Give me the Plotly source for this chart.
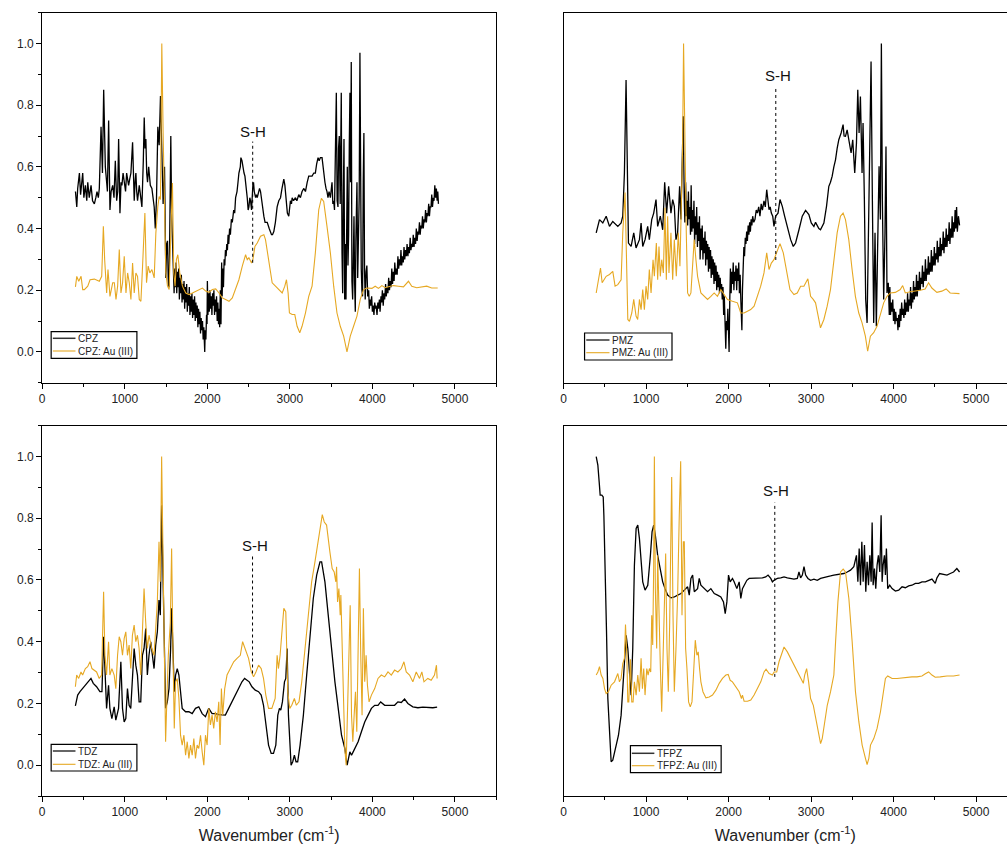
import plotly.graph_objects as go

# FTIR spectra (normalised absorbance) of free drugs and their Au(III) complexes
# Each list holds (wavenumber in cm-1, normalised intensity) pairs.

cpz = [(403,0.52),(419,0.47),(430,0.53),(451,0.58),(465,0.51),(480,0.56),(491,0.58),(505,0.50),(523,0.54),(540,0.49),(552,0.55),(570,0.50),(592,0.54),(610,0.49),(632,0.48),(650,0.50),(664,0.52),(680,0.50),(692,0.53),(713,0.73),(730,0.58),(745,0.85),(755,0.62),(765,0.60),(781,0.55),(790,0.52),(805,0.75),(821,0.46),(835,0.52),(854,0.54),(870,0.50),(886,0.62),(902,0.49),(915,0.52),(926,0.69),(942,0.45),(955,0.55),(966,0.54),(980,0.58),(994,0.54),(1010,0.52),(1023,0.58),(1047,0.54),(1060,0.56),(1075,0.58),(1095,0.68),(1105,0.55),(1115,0.49),(1125,0.55),(1135,0.58),(1145,0.52),(1155,0.49),(1176,0.54),(1190,0.50),(1208,0.47),(1225,0.62),(1236,0.76),(1246,0.66),(1256,0.69),(1266,0.58),(1276,0.55),(1290,0.60),(1296,0.57),(1310,0.54),(1329,0.53),(1345,0.48),(1357,0.47),(1370,0.40),(1385,0.50),(1401,0.73),(1417,0.67),(1433,0.83),(1449,0.68),(1465,0.48),(1482,0.60),(1498,0.24),(1508,0.35),(1518,0.36),(1528,0.22),(1538,0.21),(1548,0.45),(1558,0.70),(1568,0.45),(1578,0.38),(1588,0.30),
       (1598,0.19),(1606,0.27),(1614,0.21),(1622,0.29),(1630,0.19),(1638,0.26),(1646,0.21),(1654,0.27),(1662,0.17),(1670,0.24),(1678,0.19),(1686,0.25),(1694,0.16),(1702,0.22),(1710,0.17),(1718,0.23),(1726,0.14),(1734,0.21),(1742,0.16),(1750,0.22),(1758,0.13),(1766,0.19),(1774,0.15),(1782,0.21),(1790,0.12),(1798,0.18),(1806,0.13),(1814,0.19),(1822,0.11),(1830,0.17),(1838,0.12),(1846,0.18),(1854,0.10),(1862,0.16),(1870,0.11),(1878,0.15),(1886,0.08),(1894,0.14),(1902,0.09),(1910,0.13),(1918,0.06),(1926,0.11),(1934,0.07),(1942,0.10),(1950,0.04),(1958,0.08),(1964,0.03),(1969,0.00),(1975,0.07),(1983,0.04),(1991,0.12),(1997,0.09),(2001,0.23),(2008,0.12),(2016,0.19),(2024,0.13),(2032,0.20),(2040,0.14),(2048,0.18),(2056,0.12),(2064,0.19),(2072,0.15),(2080,0.20),(2088,0.12),(2096,0.17),(2104,0.13),(2112,0.18),(2120,0.10),(2128,0.16),(2136,0.09),(2144,0.14),(2150,0.08),(2158,0.20),(2166,0.09),(2174,0.29),(2180,0.18),(2188,0.27),(2196,0.21),(2204,0.30),(2212,0.28),(2220,0.33),(2228,0.31),(2236,0.35),(2244,0.33),(2252,0.38),(2260,0.35),(2270,0.40),
       (2280,0.38),(2292,0.43),(2303,0.42),(2320,0.46),(2332,0.45),(2343,0.50),(2360,0.52),(2372,0.55),(2383,0.58),(2400,0.60),(2407,0.63),(2420,0.62),(2432,0.59),(2445,0.58),(2456,0.57),(2470,0.54),(2484,0.50),(2495,0.46),(2504,0.47),(2515,0.50),(2524,0.49),(2536,0.46),(2545,0.52),(2552,0.54),(2560,0.55),(2569,0.52),(2585,0.50),(2595,0.51),(2605,0.50),(2620,0.52),(2633,0.53),(2645,0.52),(2657,0.49),(2670,0.47),(2685,0.44),(2700,0.42),(2726,0.42),(2750,0.40),(2778,0.38),(2790,0.38),(2806,0.39),(2825,0.42),(2846,0.47),(2866,0.49),(2887,0.50),(2905,0.53),(2927,0.56),(2940,0.54),(2955,0.48),(2970,0.45),(2987,0.44),(3000,0.48),(3007,0.49),(3020,0.48),(3028,0.50),(3045,0.49),(3068,0.50),(3085,0.49),(3108,0.51),(3128,0.50),(3148,0.52),(3170,0.53),(3189,0.52),(3210,0.55),(3229,0.57),(3250,0.57),(3269,0.57),(3290,0.58),(3309,0.58),(3325,0.61),(3342,0.63),(3355,0.62),(3370,0.63),(3390,0.63),(3400,0.60),(3410,0.58),(3425,0.55),(3438,0.53),(3450,0.52),(3462,0.50),(3475,0.52),(3491,0.50),(3500,0.52),(3511,0.55),(3521,0.48),(3531,0.49),(3541,0.46),(3551,0.61),(3563,0.84),(3573,0.49),(3583,0.47),(3590,0.66),(3599,0.70),(3610,0.48),(3623,0.84),(3632,0.32),(3640,0.19),(3648,0.50),(3656,0.69),(3664,0.17),(3672,0.35),(3680,0.17),(3688,0.40),(3696,0.60),(3704,0.28),(3712,0.38),(3720,0.67),(3728,0.84),(3736,0.55),(3744,0.94),(3752,0.23),(3761,0.17),(3769,0.30),(3777,0.44),(3785,0.22),(3793,0.13),(3800,0.36),(3813,0.55),(3822,0.24),(3833,0.38),(3840,0.50),(3849,0.97),(3857,0.33),(3865,0.27),(3873,0.20),(3881,0.18),(3889,0.55),(3897,0.71),(3905,0.26),(3913,0.17),(3923,0.26),(3933,0.28),(3943,0.18),
       (3955,0.20),(3963,0.14),(3972,0.17),(3980,0.15),(3991,0.18),(4000,0.13),(4008,0.15),(4019,0.12),(4028,0.16),(4037,0.14),(4045,0.15),(4056,0.12),(4066,0.16),(4074,0.14),(4085,0.17),(4093,0.13),(4104,0.18),(4112,0.16),(4121,0.20),(4131,0.15),(4140,0.19),(4149,0.17),(4160,0.22),(4168,0.18),(4179,0.21),(4188,0.19),(4197,0.24),(4207,0.20),(4215,0.23),(4226,0.21),(4235,0.27),(4244,0.22),(4254,0.26),(4263,0.23),(4271,0.29),(4282,0.25),(4290,0.27),(4300,0.25),(4309,0.31),(4318,0.27),(4328,0.30),(4337,0.28),(4346,0.33),(4355,0.28),(4364,0.31),(4374,0.29),(4383,0.34),(4392,0.30),(4402,0.33),(4411,0.31),(4420,0.35),(4430,0.31),(4439,0.34),(4448,0.32),(4458,0.37),(4467,0.33),(4476,0.35),(4486,0.34),(4495,0.38),(4504,0.34),(4514,0.37),(4523,0.35),(4532,0.40),(4542,0.36),(4551,0.39),(4560,0.38),(4570,0.42),(4579,0.38),(4588,0.41),(4598,0.40),(4607,0.44),(4616,0.40),(4626,0.43),(4635,0.42),(4644,0.46),(4654,0.42),(4663,0.45),(4672,0.44),(4682,0.48),(4691,0.44),(4700,0.47),(4710,0.47),(4719,0.51),(4728,0.47),(4738,0.50),(4747,0.49),(4756,0.54),(4766,0.50),(4775,0.53),(4784,0.49),(4792,0.52),(4800,0.48)]

cpz_au = [(403,0.211),(419,0.245),(443,0.229),(471,0.245),(491,0.202),(511,0.202),(552,0.213),(580,0.234),(632,0.236),(692,0.229),(721,0.245),(741,0.407),(757,0.299),(781,0.191),(797,0.267),(821,0.180),(854,0.224),(874,0.224),(894,0.170),(914,0.213),(934,0.332),(954,0.191),(974,0.224),(994,0.310),(1015,0.191),(1035,0.256),(1055,0.224),(1075,0.170),(1095,0.288),(1115,0.191),(1135,0.256),(1155,0.245),(1176,0.170),(1196,0.164),(1216,0.278),(1244,0.450),(1264,0.224),(1284,0.278),(1304,0.256),(1329,0.267),(1357,0.240),(1377,0.386),(1401,0.472),(1417,0.504),(1433,0.494),(1449,1.0),(1465,0.710),(1482,0.472),(1498,0.256),(1518,0.213),(1538,0.202),(1558,0.386),(1578,0.548),(1594,0.256),(1610,0.213),(1626,0.299),(1643,0.315),(1667,0.256),(1699,0.213),(1739,0.191),(1779,0.186),(1820,0.191),(1860,0.197),(1900,0.202),(1941,0.207),(1981,0.197),(2021,0.193),(2061,0.202),(2102,0.204),(2142,0.191),(2182,0.175),(2222,0.170),(2263,0.164),(2303,0.175),(2343,0.202),(2383,0.234),(2424,0.278),(2464,0.315),(2484,0.299),(2504,0.305),(2536,0.288),(2552,0.299),(2577,0.342),(2605,0.353),(2645,0.375),(2685,0.380),(2705,0.364),(2746,0.288),(2786,0.224),(2826,0.213),(2867,0.202),(2907,0.191),(2939,0.213),(2959,0.234),(2979,0.191),(2995,0.126),(3028,0.121),(3060,0.121),(3088,0.083),(3120,0.062),(3148,0.083),(3189,0.126),(3229,0.180),(3269,0.213),(3309,0.321),(3350,0.461),(3382,0.498),(3410,0.488),(3450,0.407),(3491,0.321),(3531,0.213),(3571,0.126),(3611,0.083),(3652,0.051),(3692,0.0),(3732,0.051),(3772,0.083),(3813,0.116),(3853,0.170),(3893,0.202),(3933,0.207),(3994,0.206),(4034,0.213),(4074,0.206),(4115,0.215),(4155,0.208),(4195,0.211),(4256,0.215),(4316,0.213),(4376,0.211),(4437,0.229),(4477,0.213),(4537,0.208),(4598,0.211),(4658,0.213),(4718,0.207),(4791,0.207)]

pmz = [(395,0.386),(415,0.407),(435,0.429),(475,0.418),(516,0.440),(556,0.407),(596,0.423),(657,0.407),(697,0.418),(717,0.440),(737,0.580),(757,0.882),(770,0.677),(786,0.353),(818,0.342),(850,0.386),(878,0.337),(919,0.364),(939,0.418),(959,0.342),(987,0.364),(1019,0.407),(1039,0.364),(1068,0.429),(1092,0.450),(1120,0.494),(1140,0.407),(1172,0.440),(1201,0.396),(1225,0.550),(1249,0.450),(1273,0.537),(1301,0.450),(1322,0.494),(1342,0.472),(1362,0.364),(1382,0.386),(1406,0.537),(1422,0.429),(1438,0.602),(1450,0.764),
       (1462,0.50),(1470,0.42),(1479,0.55),(1487,0.44),(1496,0.49),(1504,0.41),(1513,0.52),(1521,0.43),(1530,0.47),(1538,0.38),(1546,0.54),(1555,0.39),(1563,0.46),(1571,0.40),(1580,0.49),(1588,0.35),(1597,0.44),(1605,0.38),(1613,0.47),(1622,0.34),(1630,0.42),(1638,0.36),(1647,0.44),(1655,0.30),(1664,0.40),(1672,0.33),(1680,0.41),(1689,0.30),(1697,0.37),(1705,0.32),(1714,0.39),(1722,0.28),(1731,0.36),(1739,0.30),(1747,0.35),(1756,0.26),(1764,0.34),(1772,0.27),(1781,0.33),(1789,0.24),(1798,0.31),(1806,0.25),(1814,0.30),(1823,0.22),(1831,0.29),(1839,0.23),(1848,0.28),(1856,0.20),(1865,0.26),(1873,0.21),(1881,0.25),(1890,0.19),(1898,0.24),(1906,0.20),(1915,0.22),(1923,0.17),(1932,0.21),(1940,0.12),(1948,0.18),(1957,0.06),(1966,0.01),(1974,0.10),(1983,0.07),(1991,0.14),(1999,0.05),(2006,0.00),(2014,0.16),(2022,0.27),(2031,0.19),(2039,0.26),(2047,0.22),(2056,0.29),(2064,0.20),(2073,0.26),(2081,0.23),(2089,0.28),(2098,0.20),(2106,0.27),(2114,0.23),(2123,0.29),(2131,0.19),(2140,0.25),(2148,0.17),(2156,0.10),(2161,0.07),(2168,0.20),(2176,0.30),(2185,0.34),(2193,0.31),(2202,0.37),(2210,0.35),(2219,0.39),(2228,0.36),(2237,0.41),(2246,0.38),(2255,0.42),(2264,0.39),(2273,0.43),(2282,0.41),(2292,0.44),(2305,0.42),
       (2320,0.43),(2335,0.46),(2349,0.45),(2365,0.47),(2380,0.44),(2395,0.48),(2410,0.46),(2429,0.49),(2445,0.47),(2462,0.526),(2476,0.48),(2490,0.461),(2504,0.47),(2518,0.450),(2535,0.44),(2550,0.407),(2570,0.440),(2599,0.450),(2623,0.494),(2651,0.472),(2679,0.440),(2712,0.407),(2752,0.364),(2784,0.342),(2812,0.353),(2853,0.396),(2893,0.440),(2933,0.459),(2973,0.445),(3002,0.418),(3034,0.407),(3054,0.42),(3074,0.407),(3094,0.40),(3114,0.396),(3135,0.41),(3155,0.418),(3187,0.472),(3215,0.537),(3235,0.55),(3255,0.569),(3276,0.60),(3296,0.623),(3316,0.66),(3336,0.688),(3364,0.710),(3388,0.737),(3400,0.70),(3417,0.699),(3437,0.72),(3457,0.693),(3472,0.67),(3485,0.645),(3505,0.688),(3529,0.580),(3550,0.677),(3566,0.850),(3582,0.710),(3598,0.828),(3618,0.580),(3630,0.742),(3646,0.494),(3662,0.170),(3679,0.094),(3695,0.386),(3711,0.515),(3727,0.942),(3743,0.494),(3759,0.094),(3775,0.386),(3791,0.083),(3807,0.342),(3824,0.602),(3840,0.429),(3852,1.0),(3864,0.494),(3880,0.170),(3896,0.386),(3908,0.666),(3920,0.191),(3936,0.224),(3948,0.12),
       (3955,0.21),(3963,0.12),(3972,0.16),(3981,0.13),(3990,0.17),(3999,0.10),(4008,0.14),(4017,0.09),(4026,0.13),(4035,0.10),(4044,0.11),(4053,0.07),(4062,0.12),(4071,0.08),(4080,0.14),(4089,0.10),(4098,0.16),(4107,0.12),(4116,0.14),(4125,0.11),(4134,0.17),(4143,0.12),(4152,0.16),(4161,0.13),(4170,0.19),(4179,0.13),(4188,0.17),(4197,0.15),(4206,0.21),(4215,0.14),(4224,0.19),(4233,0.16),(4242,0.23),(4251,0.17),(4260,0.21),(4269,0.18),(4278,0.25),(4287,0.18),(4296,0.23),(4305,0.20),(4314,0.26),(4323,0.20),(4332,0.24),(4341,0.22),(4350,0.28),(4359,0.21),(4368,0.26),(4377,0.23),(4386,0.30),(4395,0.23),(4404,0.27),(4413,0.25),(4422,0.31),(4431,0.25),(4440,0.29),(4449,0.26),(4458,0.33),(4467,0.26),(4476,0.31),(4485,0.28),(4494,0.34),(4503,0.28),(4512,0.32),(4521,0.30),(4530,0.36),(4539,0.29),(4548,0.34),(4557,0.31),(4566,0.37),(4575,0.31),(4584,0.35),(4593,0.33),(4602,0.39),(4611,0.32),(4620,0.37),(4629,0.34),(4638,0.40),(4647,0.34),(4656,0.38),(4665,0.36),(4674,0.42),(4683,0.35),(4692,0.40),(4701,0.37),(4710,0.44),(4719,0.37),(4728,0.42),(4737,0.39),(4746,0.46),(4755,0.40),(4764,0.47),(4773,0.39),(4786,0.44),(4800,0.41)]

pmz_au = [(395,0.191),(423,0.234),(447,0.272),(467,0.224),(516,0.245),(556,0.251),(596,0.261),(624,0.213),(657,0.218),(697,0.234),(717,0.386),(745,0.517),(761,0.299),(778,0.105),(798,0.099),(826,0.126),(850,0.170),(878,0.116),(898,0.105),(919,0.170),(939,0.137),(959,0.202),(979,0.137),(999,0.213),(1019,0.170),(1039,0.267),(1060,0.191),(1084,0.299),(1100,0.245),(1124,0.353),(1140,0.234),(1156,0.342),(1172,0.245),(1189,0.299),(1209,0.256),(1229,0.467),(1245,0.234),(1261,0.440),(1277,0.256),(1301,0.386),(1322,0.234),(1342,0.364),(1366,0.245),(1390,0.386),(1410,0.278),(1430,0.494),(1442,0.656),(1454,1.0),(1471,0.602),(1487,0.386),(1503,0.191),(1523,0.180),(1543,0.191),(1563,0.299),(1583,0.364),(1604,0.299),(1624,0.245),(1664,0.191),(1704,0.180),(1745,0.170),(1785,0.180),(1825,0.191),(1865,0.180),(1906,0.202),(1946,0.186),(1986,0.170),(2047,0.164),(2107,0.159),(2147,0.126),(2188,0.126),(2228,0.132),(2268,0.137),(2309,0.148),(2349,0.180),(2389,0.213),(2429,0.256),(2462,0.321),(2490,0.267),(2518,0.288),(2550,0.299),(2591,0.332),(2623,0.351),(2663,0.321),(2703,0.256),(2744,0.202),(2792,0.186),(2832,0.191),(2873,0.213),(2913,0.213),(2961,0.237),(2994,0.180),(3026,0.170),(3054,0.159),(3086,0.116),(3114,0.078),(3155,0.105),(3195,0.148),(3235,0.202),(3276,0.299),(3316,0.386),(3356,0.440),(3388,0.450),(3417,0.429),(3457,0.364),(3497,0.267),(3537,0.180),(3578,0.126),(3618,0.094),(3658,0.051),(3686,0.002),(3719,0.051),(3759,0.062),(3799,0.083),(3840,0.126),(3880,0.159),(3920,0.180),(3960,0.191),(4021,0.193),(4081,0.202),(4110,0.215),(4142,0.191),(4202,0.195),(4263,0.197),(4323,0.200),(4383,0.204),(4424,0.224),(4464,0.207),(4525,0.193),(4585,0.197),(4637,0.204),(4686,0.191),(4746,0.189),(4799,0.189)]

tdz = [(402,0.192),(430,0.227),(458,0.238),(490,0.248),(531,0.259),(563,0.270),(591,0.281),(619,0.265),(659,0.254),(699,0.238),(724,0.238),(744,0.416),(764,0.302),(780,0.184),(804,0.259),(820,0.184),(844,0.151),(872,0.189),(892,0.146),(925,0.184),(953,0.335),(973,0.184),(993,0.140),(1013,0.151),(1033,0.248),(1053,0.194),(1073,0.184),(1093,0.292),(1114,0.378),(1134,0.324),(1154,0.292),(1174,0.205),(1194,0.205),(1214,0.356),(1234,0.378),(1254,0.443),(1274,0.292),(1294,0.356),(1315,0.400),(1335,0.356),(1355,0.313),(1375,0.389),(1395,0.432),(1415,0.535),(1431,0.486),(1447,0.842),(1463,0.648),(1479,0.378),(1495,0.184),(1516,0.205),(1536,0.248),(1556,0.378),(1568,0.508),(1584,0.378),(1600,0.238),(1616,0.292),(1636,0.313),(1656,0.292),(1676,0.227),(1696,0.184),(1737,0.173),(1777,0.173),(1817,0.167),(1857,0.184),(1897,0.189),(1938,0.167),(1978,0.157),(2018,0.184),(2058,0.167),(2098,0.167),(2139,0.164),(2179,0.162),(2219,0.162),(2259,0.184),(2299,0.205),(2340,0.227),(2380,0.248),(2420,0.270),(2452,0.281),(2480,0.275),(2508,0.270),(2541,0.254),(2581,0.243),(2621,0.238),(2653,0.227),(2681,0.194),(2709,0.140),(2742,0.065),(2774,0.038),(2802,0.038),(2830,0.065),(2854,0.162),(2874,0.184),(2890,0.178),(2910,0.205),(2935,0.270),(2951,0.281),(2967,0.378),(2983,0.162),(2999,0.054),(3015,0.0),(3035,0.011),(3055,0.032),(3075,0.011),(3095,0.011),(3124,0.065),(3164,0.162),(3204,0.292),(3244,0.421),(3284,0.540),(3325,0.616),(3365,0.659),(3385,0.659),(3425,0.594),(3465,0.486),(3505,0.378),(3546,0.270),(3586,0.184),(3626,0.097),(3666,0.054),(3694,0.0),(3727,0.043),(3747,0.032),(3767,0.043),(3787,0.054),(3827,0.076),(3867,0.108),(3907,0.140),(3948,0.162),(3988,0.184),(4028,0.194),(4068,0.194),(4100,0.205),(4149,0.194),(4209,0.194),(4269,0.194),(4309,0.205),(4350,0.203),(4390,0.214),(4430,0.200),(4490,0.189),(4551,0.186),(4611,0.188),(4671,0.186),(4732,0.186),(4784,0.188)]

tdz_au = [(402,0.254),(418,0.292),(442,0.281),(470,0.302),(490,0.292),(523,0.313),(551,0.319),(579,0.335),(603,0.313),(631,0.308),(659,0.302),(691,0.281),(720,0.292),(744,0.562),(760,0.356),(780,0.292),(804,0.400),(820,0.292),(844,0.313),(872,0.292),(892,0.248),(913,0.356),(933,0.416),(953,0.400),(973,0.356),(993,0.410),(1013,0.432),(1033,0.356),(1053,0.389),(1073,0.313),(1093,0.421),(1114,0.454),(1134,0.400),(1154,0.421),(1174,0.378),(1194,0.292),(1214,0.432),(1234,0.572),(1254,0.464),(1274,0.378),(1294,0.421),(1327,0.378),(1355,0.356),(1375,0.464),(1395,0.529),(1415,0.724),(1431,0.594),(1447,1.0),(1463,0.724),(1479,0.378),(1495,0.076),(1512,0.227),(1528,0.356),(1552,0.464),(1568,0.702),(1584,0.378),(1600,0.119),(1616,0.270),(1636,0.281),(1656,0.216),(1676,0.097),(1696,0.065),(1717,0.097),(1737,0.032),(1757,0.076),(1777,0.022),(1797,0.065),(1817,0.032),(1837,0.086),(1857,0.022),(1877,0.065),(1897,0.054),(1918,0.097),(1938,0.043),(1958,0.0),(1978,0.097),(1998,0.065),(2018,0.184),(2038,0.130),(2058,0.162),(2078,0.119),(2098,0.173),(2119,0.140),(2139,0.205),(2155,0.065),(2171,0.248),(2187,0.162),(2211,0.248),(2239,0.292),(2279,0.313),(2320,0.335),(2360,0.346),(2400,0.356),(2428,0.400),(2460,0.378),(2500,0.346),(2533,0.302),(2561,0.286),(2589,0.302),(2621,0.324),(2653,0.313),(2681,0.281),(2709,0.227),(2742,0.184),(2782,0.184),(2822,0.216),(2846,0.356),(2862,0.313),(2882,0.356),(2910,0.454),(2927,0.508),(2951,0.497),(2975,0.238),(2999,0.184),(3023,0.194),(3055,0.216),(3079,0.194),(3111,0.205),(3144,0.270),(3184,0.378),(3224,0.486),(3264,0.594),(3304,0.659),(3345,0.724),(3377,0.778),(3393,0.812),(3417,0.788),(3445,0.778),(3485,0.691),(3513,0.637),(3537,0.626),(3557,0.594),(3566,0.643),(3578,0.529),(3594,0.572),(3610,0.486),(3618,0.551),(3634,0.378),(3650,0.184),(3666,0.054),(3682,0.0),(3698,0.162),(3715,0.378),(3731,0.518),(3747,0.162),(3763,0.076),(3779,0.162),(3795,0.238),(3811,0.108),(3827,0.378),(3843,0.637),(3859,0.356),(3875,0.162),(3891,0.508),(3907,0.270),(3924,0.356),(3940,0.259),(3960,0.205),(3988,0.227),(4028,0.248),(4068,0.281),(4108,0.292),(4149,0.286),(4189,0.302),(4229,0.292),(4269,0.308),(4309,0.302),(4350,0.313),(4382,0.335),(4410,0.302),(4450,0.292),(4490,0.270),(4531,0.302),(4571,0.281),(4599,0.302),(4625,0.270),(4671,0.281),(4712,0.275),(4752,0.292),(4776,0.324),(4784,0.281)]

tfpz = [(395,1.0),(415,0.972),(431,0.918),(443,0.875),(463,0.875),(480,0.869),(488,0.810),(504,0.648),(520,0.432),(536,0.216),(556,0.086),(576,0.011),(596,0.016),(629,0.054),(665,0.097),(697,0.162),(729,0.281),(758,0.421),(778,0.378),(798,0.292),(818,0.227),(838,0.378),(858,0.648),(879,0.767),(899,0.778),(919,0.734),(939,0.659),(959,0.594),(987,0.567),(1020,0.583),(1052,0.680),(1072,0.756),(1092,0.778),(1112,0.745),(1140,0.680),(1173,0.626),(1201,0.594),(1229,0.572),(1261,0.551),(1302,0.542),(1342,0.545),(1382,0.551),(1423,0.556),(1463,0.567),(1503,0.578),(1523,0.551),(1543,0.605),(1564,0.616),(1584,0.562),(1624,0.572),(1644,0.605),(1664,0.583),(1705,0.572),(1745,0.562),(1785,0.572),(1826,0.556),(1866,0.551),(1906,0.545),(1938,0.529),(1959,0.491),(1979,0.529),(1999,0.616),(2019,0.594),(2047,0.605),(2067,0.594),(2100,0.572),(2128,0.594),(2148,0.540),(2168,0.572),(2188,0.583),(2221,0.599),(2249,0.605),(2289,0.605),(2329,0.607),(2370,0.605),(2410,0.607),(2450,0.610),(2478,0.616),(2511,0.605),(2531,0.594),(2551,0.599),(2591,0.605),(2632,0.607),(2672,0.610),(2712,0.607),(2752,0.605),(2793,0.603),(2833,0.605),(2853,0.626),(2873,0.607),(2894,0.616),(2914,0.643),(2934,0.616),(2962,0.605),(2994,0.599),(3035,0.603),(3075,0.599),(3115,0.605),(3155,0.607),(3196,0.610),(3236,0.613),(3276,0.616),(3317,0.618),(3357,0.621),(3397,0.621),(3438,0.626),(3478,0.632),(3518,0.643),(3550,0.680),(3567,0.594),(3583,0.702),(3599,0.583),(3615,0.724),(3631,0.594),(3647,0.713),(3663,0.562),(3679,0.659),(3696,0.583),(3712,0.680),(3728,0.594),(3740,0.786),(3752,0.583),(3768,0.637),(3784,0.572),(3800,0.648),(3816,0.680),(3833,0.626),(3849,0.810),(3861,0.594),(3873,0.648),(3889,0.680),(3901,0.616),(3913,0.702),(3929,0.572),(3953,0.583),(3982,0.572),(4022,0.564),(4062,0.567),(4103,0.578),(4143,0.575),(4183,0.581),(4223,0.583),(4264,0.589),(4304,0.589),(4344,0.594),(4385,0.594),(4425,0.599),(4465,0.603),(4505,0.589),(4526,0.607),(4558,0.621),(4606,0.618),(4647,0.616),(4687,0.621),(4727,0.626),(4767,0.637),(4800,0.626)]

tfpz_au = [(395,0.292),(415,0.302),(435,0.319),(455,0.292),(476,0.281),(496,0.248),(516,0.232),(544,0.238),(576,0.259),(617,0.270),(657,0.297),(677,0.270),(697,0.281),(717,0.329),(737,0.346),(750,0.456),(766,0.356),(778,0.205),(790,0.205),(810,0.343),(826,0.205),(842,0.205),(858,0.270),(879,0.227),(899,0.292),(919,0.238),(939,0.346),(955,0.248),(971,0.313),(987,0.227),(1008,0.313),(1024,0.292),(1040,0.313),(1056,0.302),(1068,0.486),(1080,0.389),(1092,0.648),(1100,1.0),(1112,0.572),(1128,0.378),(1140,0.680),(1157,0.432),(1173,0.313),(1189,0.173),(1205,0.378),(1221,0.594),(1237,0.686),(1253,0.378),(1269,0.238),(1286,0.464),(1310,0.934),(1326,0.486),(1342,0.238),(1362,0.378),(1382,0.551),(1402,0.810),(1419,0.985),(1435,0.486),(1451,0.724),(1463,0.724),(1479,0.378),(1495,0.313),(1515,0.205),(1535,0.189),(1556,0.205),(1576,0.302),(1596,0.405),(1616,0.356),(1632,0.367),(1648,0.313),(1664,0.270),(1689,0.238),(1725,0.218),(1765,0.221),(1805,0.227),(1846,0.243),(1886,0.265),(1926,0.281),(1967,0.292),(1995,0.294),(2019,0.275),(2047,0.270),(2088,0.254),(2128,0.238),(2156,0.216),(2168,0.227),(2188,0.207),(2229,0.207),(2269,0.211),(2309,0.227),(2349,0.248),(2390,0.270),(2430,0.302),(2454,0.311),(2491,0.297),(2531,0.292),(2551,0.302),(2583,0.302),(2611,0.335),(2632,0.351),(2672,0.383),(2712,0.367),(2752,0.346),(2793,0.324),(2833,0.302),(2873,0.281),(2906,0.265),(2922,0.292),(2946,0.313),(2970,0.270),(2994,0.216),(3027,0.194),(3055,0.151),(3083,0.108),(3115,0.070),(3135,0.086),(3164,0.140),(3196,0.194),(3236,0.238),(3276,0.292),(3297,0.400),(3325,0.529),(3357,0.626),(3389,0.635),(3417,0.626),(3458,0.540),(3498,0.400),(3538,0.238),(3579,0.140),(3619,0.065),(3659,0.022),(3679,0.002),(3700,0.022),(3720,0.065),(3760,0.086),(3800,0.119),(3841,0.173),(3873,0.238),(3901,0.281),(3929,0.289),(3982,0.281),(4042,0.281),(4103,0.283),(4163,0.286),(4223,0.286),(4284,0.286),(4344,0.289),(4385,0.296),(4425,0.302),(4465,0.292),(4505,0.285),(4566,0.286),(4647,0.289),(4727,0.289),(4800,0.292)]

# S-H band marker per panel: (label x, label y, line x, line top, line bottom)
sh_marks = [
    (2552, 0.714, 2550, 0.682, 0.289),
    (2600, 0.895, 2572, 0.858, 0.298),
    (2572, 0.713, 2548, 0.683, 0.297),
    (2572, 0.891, 2560, 0.851, 0.286),
]

panels = [
    ("CPZ", cpz, cpz_au),
    ("PMZ", pmz, pmz_au),
    ("TDZ", tdz, tdz_au),
    ("TFPZ", tfpz, tfpz_au),
]

BLACK = "#000000"
GOLD = "#E6A823"
FONT = "Liberation Sans, Arial, sans-serif"
W, H = 1007, 844

fig = go.Figure()

for i, (name, free, cplx) in enumerate(panels):
    n = "" if i == 0 else str(i + 1)
    fig.add_trace(go.Scatter(
        x=[p[0] for p in free], y=[p[1] for p in free],
        mode="lines", name=name, line=dict(color=BLACK, width=1.3),
        xaxis="x" + n, yaxis="y" + n, showlegend=False))
    fig.add_trace(go.Scatter(
        x=[p[0] for p in cplx], y=[p[1] for p in cplx],
        mode="lines", name=f"{name}: Au (III)", line=dict(color=GOLD, width=1.1),
        xaxis="x" + n, yaxis="y" + n, showlegend=False))

x_left = [39.3 / W, 494.7 / W]
x_right = [562.3 / W, 1.0]
y_top = [(H - 382.7) / H, (H - 12.7) / H]
y_bot = [(H - 796) / H, (H - 425.7) / H]

domains = [(x_left, y_top), (x_right, y_top), (x_left, y_bot), (x_right, y_bot)]
xranges = [[0, 5500], [0, 5375], [0, 5500], [0, 5375]]

layout = dict(
    width=W, height=H, autosize=False,
    margin=dict(l=0, r=0, t=0, b=0),
    paper_bgcolor="white", plot_bgcolor="white",
    font=dict(family=FONT, size=12, color="#222222"),
    showlegend=False,
)

for i, (xd, yd) in enumerate(domains):
    n = "" if i == 0 else str(i + 1)
    right = i in (1, 3)
    bottom = i in (2, 3)
    xa = dict(
        domain=xd, range=xranges[i], anchor="y" + n,
        showline=True, linecolor="black", linewidth=1, mirror=True,
        showgrid=False, zeroline=False,
        ticks="outside", ticklen=5, tickwidth=1, tickcolor="black",
        tick0=0, dtick=1000,
        minor=dict(ticks="outside", ticklen=3, tickwidth=1, tickcolor="black", dtick=500),
        tickfont=dict(family=FONT, size=12, color="#222222"),
    )
    if bottom:
        xa["title"] = dict(text="Wavenumber (cm<sup>-1</sup>)",
                           font=dict(family=FONT, size=16, color="#222222"), standoff=11)
    layout["xaxis" + n] = xa
    layout["yaxis" + n] = dict(
        domain=yd, range=[-0.1, 1.1], anchor="x" + n,
        showline=True, linecolor="black", linewidth=1, mirror=not right,
        showgrid=False, zeroline=False,
        showticklabels=not right,
        ticks="" if right else "outside", ticklen=5, tickwidth=1, tickcolor="black",
        tick0=0, dtick=0.2, tickformat=".1f",
        minor=dict(ticks="" if right else "outside", ticklen=3, tickwidth=1,
                   tickcolor="black", dtick=0.1),
        tickfont=dict(family=FONT, size=12, color="#222222"),
    )

annotations = []
shapes = []

# S-H band markers
for i, (tx, ty, lx, ltop, lbot) in enumerate(sh_marks):
    n = "" if i == 0 else str(i + 1)
    annotations.append(dict(
        x=tx, y=ty, xref="x" + n, yref="y" + n, text="S-H", showarrow=False,
        font=dict(family=FONT, size=15, color="#111111")))
    shapes.append(dict(
        type="line", x0=lx, x1=lx, y0=lbot, y1=ltop, xref="x" + n, yref="y" + n,
        line=dict(color="black", width=1, dash="dot")))

# Boxed keys: (box left, box top, box right, box bottom, first row y, second row y,
#              sample start, sample end, text left) in page pixels
keys = [
    (48.3, 331.7, 134.3, 358.3, 338.3, 351.0, 50.0, 72.7, 74.0),
    (583.3, 333.0, 671.0, 360.0, 340.0, 352.7, 585.0, 608.3, 609.5),
    (48.3, 744.3, 134.3, 771.0, 751.0, 764.3, 50.0, 72.7, 74.0),
    (629.3, 745.7, 720.3, 772.7, 753.3, 765.7, 630.7, 653.3, 655.0),
]

def px(v):
    return v / W

def py(v):
    return 1 - v / H

for (name, _, _), (bl, bt, br, bb, r1, r2, s0, s1, tl) in zip(panels, keys):
    shapes.append(dict(type="rect", xref="paper", yref="paper",
                       x0=px(bl), x1=px(br), y0=py(bb), y1=py(bt),
                       line=dict(color="black", width=1.2), fillcolor="white", layer="above"))
    for row_y, label, color, width in ((r1, name, "#333333", 1.5),
                                       (r2, f"{name}: Au (III)", GOLD, 1.1)):
        shapes.append(dict(type="line", xref="paper", yref="paper",
                           x0=px(s0), x1=px(s1), y0=py(row_y), y1=py(row_y),
                           line=dict(color=color, width=width), layer="above"))
        annotations.append(dict(x=px(tl), y=py(row_y), xref="paper", yref="paper",
                                xanchor="left", yanchor="middle", text=label,
                                showarrow=False, borderpad=0,
                                font=dict(family=FONT, size=10, color="#222222")))

layout["annotations"] = annotations
layout["shapes"] = shapes
fig.update_layout(**layout)

fig.write_html("out.html")
